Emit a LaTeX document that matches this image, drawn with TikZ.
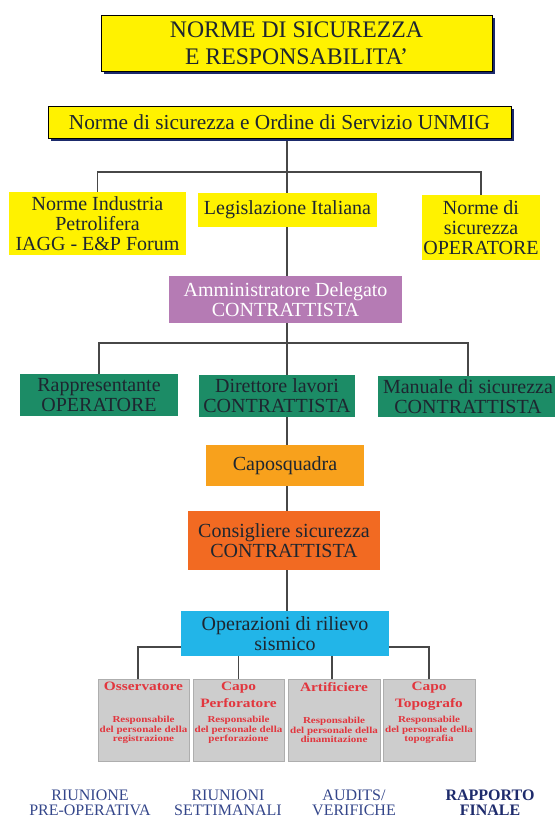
\documentclass[tikz,border=0pt]{standalone}
\usepackage{fontspec}
\setmainfont{Liberation Serif}
\newfontfamily\largaserif[FakeStretch=1.2]{Liberation Serif}
\usetikzlibrary{positioning,shadows,backgrounds}
\definecolor{giallo}{HTML}{FFF200}
\definecolor{viola}{HTML}{B57BB4}
\definecolor{verde}{HTML}{1C8C66}
\definecolor{arancio}{HTML}{F8A11C}
\definecolor{rosso}{HTML}{F26A22}
\definecolor{ciano}{HTML}{22B5E8}
\definecolor{grigio}{HTML}{CDCDCD}
\definecolor{ombra}{HTML}{1B2A6B}
\definecolor{inchiostro}{HTML}{1E2630}
\definecolor{linea}{HTML}{474747}
\definecolor{rossotesto}{HTML}{E2363E}
\definecolor{blunota}{HTML}{34468A}
\definecolor{blufinale}{HTML}{1E2B6C}
\tikzset{
  link/.style      = {draw=linea, line width=1.1pt},
  testata/.style   = {draw=black, line width=0.5pt, fill=giallo, text=inchiostro, align=center, inner sep=0pt,
                      drop shadow={fill=ombra, opacity=1, shadow xshift=2.2pt, shadow yshift=-2.2pt}},
  norma/.style     = {fill=giallo, text=inchiostro, align=center, inner sep=0pt, font=\fontsize{15}{15}\selectfont},
  ruolo/.style     = {inner sep=0pt, align=center, font=\fontsize{15}{15}\selectfont, text=inchiostro},
  compito/.style   = {fill=grigio, draw=grigio!85!black, line width=0.3pt, inner sep=0pt,
                      minimum height=61.5pt},
  capotesto/.style = {inner sep=0pt, align=center, text=rossotesto, anchor=north,
                      font=\largaserif\bfseries\fontsize{9.6}{12.3}\selectfont},
  resptesto/.style = {inner sep=0pt, align=center, text=rossotesto,
                      font=\largaserif\bfseries\fontsize{6.9}{7.3}\selectfont},
  riunione/.style  = {inner sep=0pt, align=center, text=blunota, font=\fontsize{12}{11}\selectfont}
}

\begin{document}
\begin{tikzpicture}[x=0.75pt, y=-0.75pt]
  \useasboundingbox (0,0) rectangle (555,821);
  \clip (0,0) rectangle (555,821);

  % testate
  \node[testata, font=\fontsize{17.8}{20}\selectfont, minimum width=293.25pt, minimum height=42pt]
    (titolo) at (296.5,43) {NORME DI SICUREZZA\\E RESPONSABILITA'};
  \node[testata, font=\fontsize{16}{16}\selectfont, minimum width=347.25pt, minimum height=24pt]
    (unmig) at (279.5,122) {Norme di sicurezza e Ordine di Servizio UNMIG};

  % norme di riferimento
  \node[norma, minimum width=132.75pt, minimum height=47.25pt] (industria) at (97.5,223.5)
    {Norme Industria\\Petrolifera\\IAGG - E\&P Forum};
  \node[norma, minimum width=134.25pt, minimum height=25.5pt] (legislazione) at (287.5,210)
    {Legislazione Italiana};
  \node[norma, minimum width=88.5pt, minimum height=48.75pt] (normeop) at (481,227.5)
    {Norme di\\sicurezza\\OPERATORE};

  % contrattista
  \node[ruolo, fill=viola, text=white, font=\fontsize{15}{14.5}\selectfont,
        minimum width=174.75pt, minimum height=35.25pt] (ammin) at (285.5,299.5)
    {Amministratore Delegato\\CONTRATTISTA};
  \node[ruolo, fill=verde, minimum width=118.5pt, minimum height=31.5pt] (rappr) at (99,395)
    {Rappresentante\\OPERATORE};
  \node[ruolo, fill=verde, minimum width=117pt, minimum height=31.5pt] (direttore) at (277,396)
    {Direttore lavori\\CONTRATTISTA};
  \node[ruolo, fill=verde, minimum width=135pt, minimum height=30.75pt] (manuale) at (468,396.5)
    {Manuale di sicurezza\\CONTRATTISTA};
  \node[ruolo, fill=arancio, minimum width=118.5pt, minimum height=30.75pt] (caposq) at (285,465.5)
    {Caposquadra};
  \node[ruolo, fill=rosso, minimum width=144pt, minimum height=44.25pt] (consigliere) at (284,540.5)
    {Consigliere sicurezza\\CONTRATTISTA};
  \node[ruolo, fill=ciano, minimum width=156pt, minimum height=33.75pt] (operaz) at (285,633.5)
    {Operazioni di rilievo\\sismico};

  % squadre
  \node[compito, minimum width=68.25pt] (osserv) at (143.5,720) {};
  \node[compito, minimum width=68.25pt] (perfor) at (238.5,720) {};
  \node[compito, minimum width=69pt]    (artif)  at (334,720)   {};
  \node[compito, minimum width=69pt]    (topog)  at (429,720)   {};
  \node[capotesto] (osservT) at ([yshift=-2.4pt]osserv.north) {Osservatore};
  \node[capotesto] (perforT) at ([yshift=-2.4pt]perfor.north) {Capo\\Perforatore};
  \node[capotesto] (artifT)  at ([yshift=-2.4pt]artif.north)  {Artificiere};
  \node[capotesto] (topogT)  at ([yshift=-2.4pt]topog.north)  {Capo\\Topografo};
  \node[resptesto] (osservR) at (143.5,730) {Responsabile\\del personale della\\registrazione};
  \node[resptesto] (perforR) at (238.5,730) {Responsabile\\del personale della\\perforazione};
  \node[resptesto] (artifR)  at (334,730)   {Responsabile\\del personale della\\dinamitazione};
  \node[resptesto] (topogR)  at (429,730)   {Responsabile\\del personale della\\topografia};

  % riunioni
  \node[riunione] (preop)   at (90,803)  {RIUNIONE\\PRE-OPERATIVA};
  \node[riunione] (settim)  at (228,803) {RIUNIONI\\SETTIMANALI};
  \node[riunione] (audits)  at (354,803) {AUDITS/\\VERIFICHE};
  \node[riunione, text=blufinale, font=\bfseries\fontsize{12}{11}\selectfont] (finale) at (490,803)
    {RAPPORTO\\FINALE};

  % collegamenti
  \coordinate (asse) at (287,0);
  \coordinate (busA) at (287,172);
  \coordinate (busB) at (287,343);
  \coordinate (busC) at (287,647);
  \begin{pgfonlayer}{background}
    \draw[link] (unmig.south -| asse) -- (ammin.north -| asse);
    \draw[link] (industria.north) |- (busA) -| (normeop.north);
    \draw[link] (ammin.south -| asse) -- (operaz.north -| asse);
    \draw[link] (rappr.north) |- (busB) -| (manuale.north);
    \draw[link] ([xshift=-4pt]osserv.north) |- (busC) -| (topog.north);
    \draw[link] (perfor.north) -- (perfor.north |- busC);
    \draw[link] ([xshift=-1.5pt]artif.north) -- ([xshift=-1.5pt]artif.north |- busC);
  \end{pgfonlayer}
\end{tikzpicture}
\end{document}
